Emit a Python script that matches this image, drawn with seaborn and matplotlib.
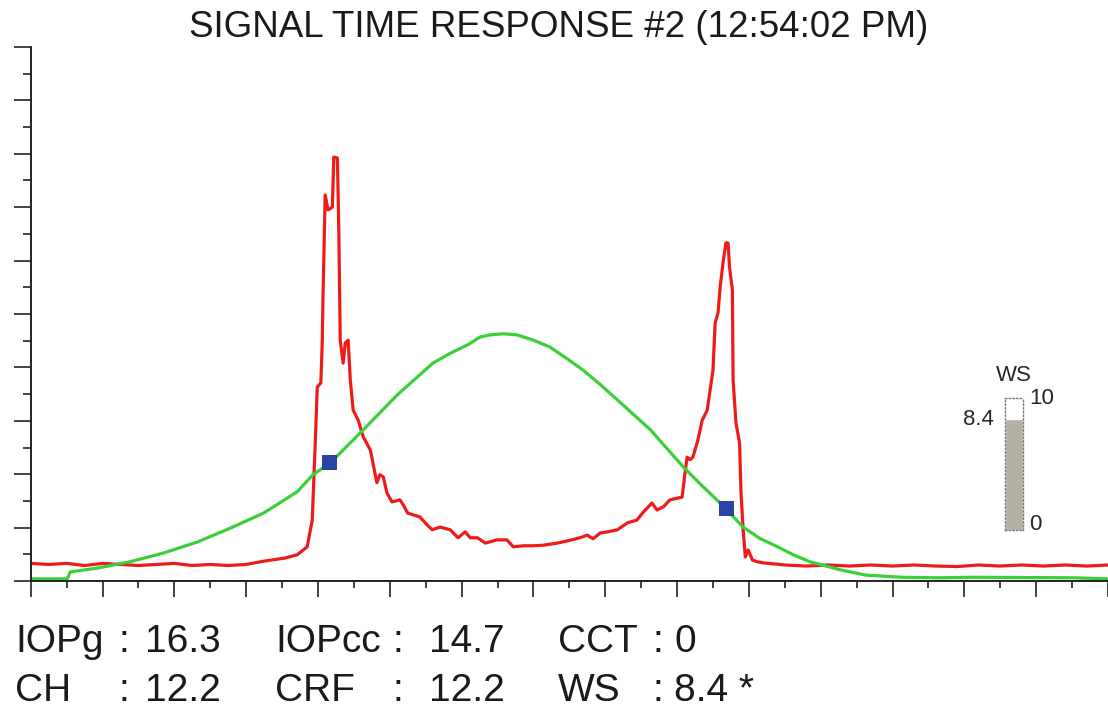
import matplotlib
matplotlib.use('Agg')
import matplotlib.pyplot as plt
import seaborn as sns
from matplotlib.ticker import MultipleLocator

# red trace (time, signal)
red_t = [0.0, 0.25, 0.5, 0.75, 1.0, 1.25, 1.5, 1.75, 2.0, 2.25, 2.5, 2.75, 3.0, 3.24,
         3.54, 3.71, 3.85, 3.92, 3.96, 3.99, 4.04, 4.06, 4.07, 4.10, 4.14, 4.20, 4.21,
         4.22, 4.27, 4.28, 4.29, 4.31, 4.35, 4.38, 4.42, 4.45, 4.49, 4.56, 4.63, 4.73,
         4.82, 4.86, 4.91, 4.96, 5.03, 5.14, 5.19, 5.25, 5.42, 5.52, 5.59, 5.70, 5.84,
         5.95, 6.05, 6.12, 6.22, 6.33, 6.49, 6.63, 6.72, 6.86, 7.00, 7.14, 7.33, 7.47,
         7.65, 7.75, 7.83, 7.93, 8.03, 8.17, 8.31, 8.44, 8.53, 8.65, 8.72, 8.81, 8.90,
         9.07, 9.11, 9.14, 9.18, 9.22, 9.29, 9.35, 9.42, 9.46, 9.50, 9.53, 9.57, 9.60,
         9.64, 9.68, 9.71, 9.73, 9.77, 9.78, 9.82, 9.87, 9.89, 9.92, 9.95, 9.99, 10.05,
         10.12, 10.20, 10.5, 10.8, 11.1, 11.4, 11.7, 12.0, 12.3, 12.6, 12.9, 13.2, 13.5,
         13.8, 14.1, 14.4, 14.7, 15.0]
red_v = [0.33, 0.31, 0.33, 0.29, 0.33, 0.31, 0.29, 0.31, 0.33, 0.29, 0.31, 0.29, 0.31, 0.37,
         0.43, 0.49, 0.64, 1.14, 2.51, 3.63, 3.71, 4.51, 5.32, 7.23, 6.95, 7.00, 7.45,
         7.94, 7.92, 7.27, 6.57, 4.51, 4.08, 4.46, 4.51, 3.76, 3.20, 3.01, 2.70, 2.45,
         1.84, 1.99, 1.95, 1.65, 1.48, 1.52, 1.42, 1.27, 1.20, 1.05, 0.96, 1.01, 0.96,
         0.81, 0.92, 0.81, 0.81, 0.71, 0.77, 0.77, 0.64, 0.66, 0.66, 0.67, 0.71, 0.75,
         0.81, 0.86, 0.79, 0.90, 0.92, 0.96, 1.09, 1.14, 1.29, 1.46, 1.33, 1.39, 1.52,
         1.57, 2.02, 2.32, 2.27, 2.32, 2.64, 3.01, 3.20, 3.58, 3.95, 4.83, 5.02, 5.51,
         5.96, 6.33, 6.33, 5.88, 5.45, 3.76, 2.96, 2.58, 1.65, 0.96, 0.45, 0.58, 0.39,
         0.36, 0.34, 0.30, 0.28, 0.30, 0.28, 0.30, 0.28, 0.30, 0.28, 0.27, 0.30, 0.28,
         0.30, 0.28, 0.30, 0.28, 0.30]

# green trace
green_t = [0.0, 0.51, 0.55, 0.92, 1.38, 1.84, 2.32, 2.78, 3.24, 3.71, 3.93, 4.17, 4.63,
           5.10, 5.60, 5.85, 6.08, 6.26, 6.40, 6.58, 6.77, 7.00, 7.23, 7.45, 7.69, 7.93,
           8.17, 8.40, 8.63, 8.86, 9.09, 9.35, 9.60, 9.92, 10.15, 10.40, 10.62, 10.85,
           11.27, 11.63, 12.13, 12.65, 13.10, 14.52, 15.0]
green_v = [0.04, 0.04, 0.17, 0.24, 0.36, 0.52, 0.73, 0.99, 1.27, 1.67, 1.99, 2.21, 2.83,
           3.48, 4.08, 4.27, 4.42, 4.57, 4.61, 4.63, 4.61, 4.51, 4.38, 4.18, 3.95, 3.68,
           3.39, 3.11, 2.83, 2.48, 2.13, 1.78, 1.46, 1.01, 0.80, 0.64, 0.49, 0.36,
           0.21, 0.11, 0.07, 0.06, 0.07, 0.06, 0.04]

# blue markers
mark_t = [4.16, 9.68]
mark_v = [2.23, 1.37]

ws_value = 8.4
ws_max = 10

title = 'SIGNAL TIME RESPONSE #2 (12:54:02 PM)'
row1 = [('IOPg', '16.3'), ('IOPcc', '14.7'), ('CCT', '0')]
row2 = [('CH', '12.2'), ('CRF', '12.2'), ('WS', '8.4 *')]

sns.set_style('white')
plt.rcParams['font.family'] = ['Liberation Sans', 'DejaVu Sans']

W, H = 1108, 710
fig = plt.figure(figsize=(W / 100, H / 100), dpi=100)
ax = fig.add_axes([30.7 / W, (H - 581) / H, 1 - 30.7 / W, 534 / H])

sns.lineplot(x=red_t, y=red_v, ax=ax, sort=False, estimator=None, color='#ee1b1b', lw=2.3)
sns.lineplot(x=green_t, y=green_v, ax=ax, sort=False, estimator=None, color='#3bd03b', lw=2.3)
sns.scatterplot(x=mark_t, y=mark_v, ax=ax, marker='s', s=110, color='#2a45a5',
                edgecolor='#1a2f80', linewidth=0.6, zorder=5)

ax.set_xlim(0, 15)
ax.set_ylim(0, 10)
ax.xaxis.set_major_locator(MultipleLocator(1))
ax.xaxis.set_minor_locator(MultipleLocator(0.5))
ax.yaxis.set_major_locator(MultipleLocator(1))
ax.yaxis.set_minor_locator(MultipleLocator(0.5))
ax.set_xticklabels([])
ax.set_yticklabels([])
ax.tick_params(axis='x', which='major', direction='out', length=11.5, width=1.2, color='#222222', bottom=True)
ax.tick_params(axis='x', which='minor', direction='out', length=5, width=1.2, color='#222222', bottom=True)
ax.tick_params(axis='y', which='major', direction='out', length=12, width=1.2, color='#222222', left=True)
ax.tick_params(axis='y', which='minor', direction='out', length=6, width=1.2, color='#222222', left=True)
for side in ['top', 'right']:
    ax.spines[side].set_visible(False)
for side in ['left', 'bottom']:
    ax.spines[side].set_color('#222222')
    ax.spines[side].set_linewidth(1.4)
ax.set_xlabel('')
ax.set_ylabel('')

fig.text(559 / W, 1 - 37 / H, title, ha='center', va='baseline', fontsize=26.5, color='#1a1a1a')

# WS gauge
gx = fig.add_axes([1005 / W, (H - 530) / H, 18 / W, 132 / H])
sns.barplot(x=[0], y=[ws_value], ax=gx, color='#b4b0a4', saturation=1, width=1)
gx.set_xlim(-0.5, 0.5)
gx.set_ylim(0, ws_max)
gx.set_xticks([])
gx.set_yticks([])
gx.set_xlabel('')
gx.set_ylabel('')
for s in gx.spines.values():
    s.set_linestyle(':')
    s.set_color('#777777')
    s.set_linewidth(1.0)
gx.text(0, 11.7, 'WS', ha='center', va='center', fontsize=16, clip_on=False)
gx.text(0.85, 10, '10', ha='left', va='center', fontsize=16, clip_on=False)
gx.text(-1.1, ws_value, f'{ws_value}', ha='right', va='center', fontsize=16, clip_on=False)
gx.text(0.85, 0.4, '0', ha='left', va='center', fontsize=16, clip_on=False)

# readouts below the plot
col_x = [(15, 118, 145), (275, 393, 429), (558, 652, 674)]
for base_y, row in [(652, row1), (701, row2)]:
    for (lx, cx, vx), (lab, val) in zip(col_x, row):
        fig.text(lx / W, 1 - base_y / H, lab, ha='left', va='baseline', fontsize=28, color='#1a1a1a')
        fig.text(cx / W, 1 - base_y / H, ':', ha='left', va='baseline', fontsize=28, color='#1a1a1a')
        fig.text(vx / W, 1 - base_y / H, val, ha='left', va='baseline', fontsize=28, color='#1a1a1a')

fig.savefig('out.png', dpi=100)
